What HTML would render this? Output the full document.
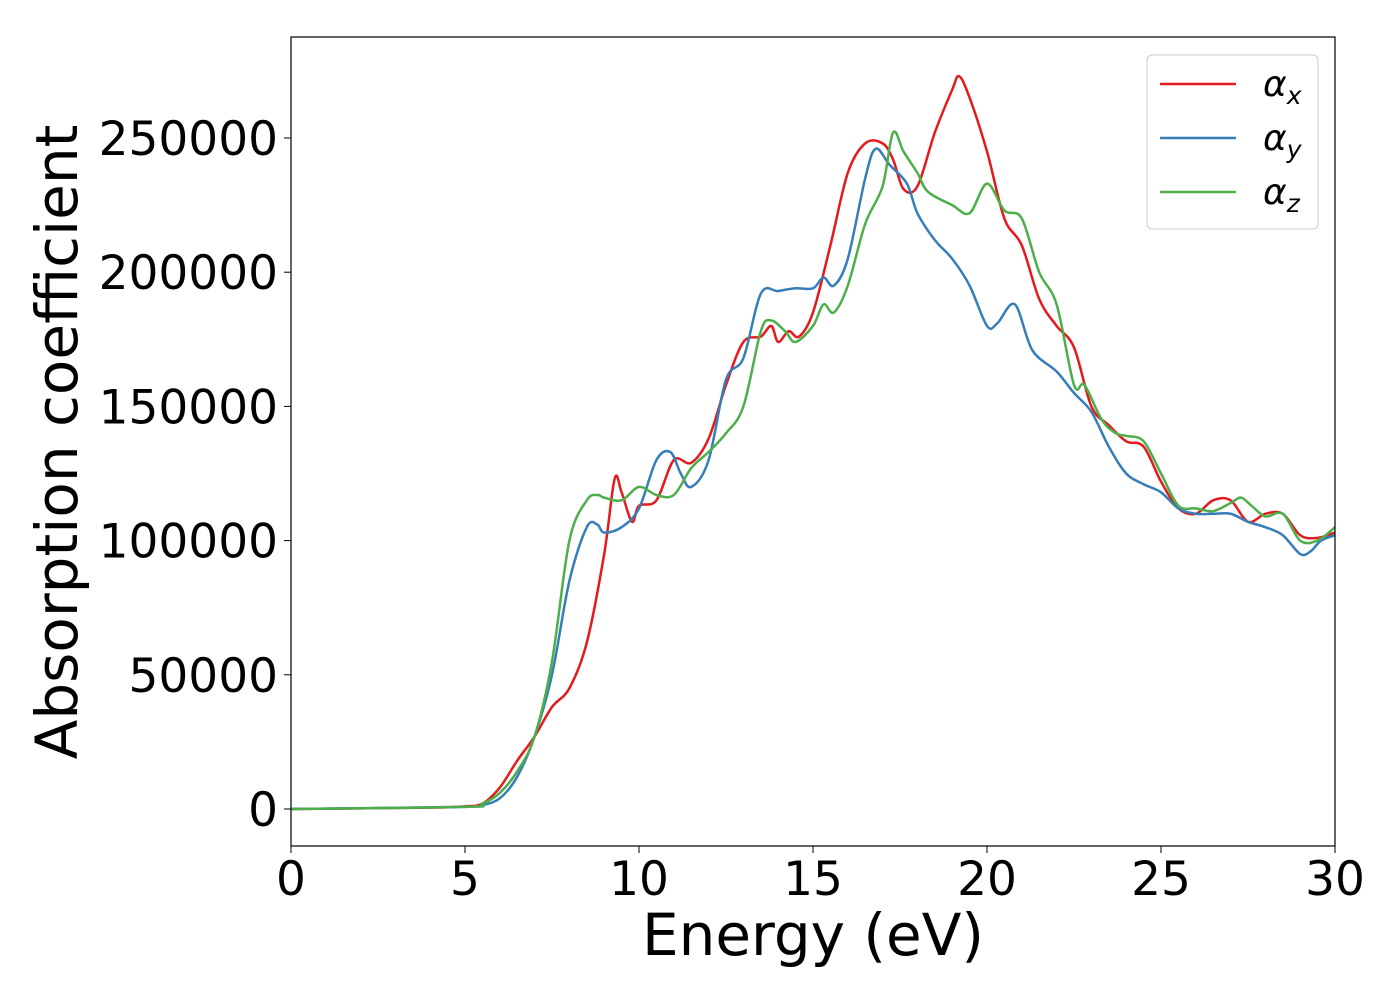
<!DOCTYPE html>
<html><head><meta charset="utf-8"><style>
body{margin:0;background:#fff}
svg{display:block;font-family:"DejaVu Sans","Liberation Sans",sans-serif}
</style></head><body>
<svg id="chart" width="1400" height="1000">
<rect x="0" y="0" width="1400" height="1000" fill="#fff"/>
<g id="series"></g>
<rect x="291" y="37" width="1044" height="809" fill="none" stroke="#000" stroke-width="1.2"/>
<g id="ticks"></g>
<text x="813" y="955" font-size="58" text-anchor="middle">Energy (eV)</text>
<text x="0" y="0" font-size="58" text-anchor="middle" transform="translate(77,442) rotate(-90)">Absorption coefficient</text>
<g>
<rect x="1147" y="55" width="171" height="174" rx="5" fill="#fff" stroke="#ccc"/>
<g id="legend"></g>
</g>
</svg>
<script>
const xTicks=[0,5,10,15,20,25,30];
const yTicks=[0,50000,100000,150000,200000,250000];
const xaX=[0,4,5,5.5,6,6.5,7,7.5,8,8.5,9,9.3,9.5,9.8,10,10.5,11,11.5,12,12.5,13,13.5,13.8,14,14.3,14.6,15,15.5,16,16.5,17,17.3,17.6,18,18.5,19,19.2,19.5,20,20.5,21,21.5,22,22.5,23,23.5,24,24.5,25,25.5,26,26.5,27,27.5,28,28.5,29,29.5,30];
const xaY=[0,500,1000,2000,8000,18000,27000,38000,45000,62000,95000,123000,118000,107000,113000,115000,130000,129000,138000,158000,174000,176000,180000,174000,178000,176000,185000,210000,237000,248000,248000,242000,231000,232000,252000,268000,273000,265000,245000,220000,210000,190000,180000,172000,150000,143000,137000,135000,122000,112000,110000,115000,115000,107000,110000,110000,102000,101000,103000];
const yaX=[0,5,5.5,6,6.5,7,7.5,8,8.5,8.8,9,9.5,10,10.5,10.9,11.2,11.5,12,12.5,13,13.5,14,14.5,15,15.3,15.6,16,16.5,16.8,17.2,17.7,18,18.5,19,19.5,20,20.3,20.8,21.3,22,22.5,23,23.5,24,24.5,25,25.5,26,26.5,27,27.5,28,28.5,29,29.3,29.6,30];
const yaY=[0,800,1500,4000,12000,27000,50000,85000,105000,106000,103000,105000,112000,130000,133000,125000,120000,130000,160000,168000,192000,193000,194000,194000,198000,195000,205000,235000,246000,240000,233000,222000,212000,205000,195000,180000,181000,188000,171000,163000,155000,148000,135000,125000,121000,118000,112000,110000,110000,110000,107000,105000,102000,95000,96000,100000,102000];
const zaX=[0,5,5.5,6,6.5,7,7.5,8,8.5,8.8,9,9.5,10,10.5,11,11.5,12,12.5,13,13.5,13.8,14.2,14.5,15,15.3,15.6,16,16.5,17,17.3,17.6,18,18.3,19,19.5,20,20.5,21,21.5,22,22.5,22.8,23.3,23.7,24,24.5,25,25.5,26,26.5,27,27.3,27.6,28,28.5,29,29.5,30];
const zaY=[0,800,2000,6000,14000,27000,55000,100000,115000,117000,116000,115000,120000,117000,117000,127000,133000,140000,150000,178000,182000,178000,174000,180000,188000,185000,195000,218000,232000,252000,245000,237000,230000,225000,222000,233000,223000,220000,200000,188000,158000,158000,145000,140000,139000,137000,125000,113000,112000,111000,114000,116000,113000,109000,110000,100000,100000,105000];
const L=291,R=1335,T=37,B=846,XMIN=0,XMAX=30,Y0PX=809,YK=671/250000;
const sx=v=>L+(v-XMIN)/(XMAX-XMIN)*(R-L);
const sy=v=>Y0PX-v*YK;
const NS='http://www.w3.org/2000/svg';
function mk(t,a,p){const e=document.createElementNS(NS,t);for(const k in a)e.setAttribute(k,a[k]);p.appendChild(e);return e;}
function pathD(xs,ys){const p=xs.map((x,i)=>[sx(x),sy(ys[i])]);let d='M'+p[0][0]+','+p[0][1];
for(let i=0;i<p.length-1;i++){const p0=p[i-1]||p[i],p1=p[i],p2=p[i+1],p3=p[i+2]||p2;
const c1=[p1[0]+(p2[0]-p0[0])/6,p1[1]+(p2[1]-p0[1])/6],c2=[p2[0]-(p3[0]-p1[0])/6,p2[1]-(p3[1]-p1[1])/6];
d+=` C${c1[0]},${c1[1]} ${c2[0]},${c2[1]} ${p2[0]},${p2[1]}`;}return d;}
const sg=document.getElementById('series');
const defs=mk('defs',{},sg);const cp=mk('clipPath',{id:'c'},defs);mk('rect',{x:L,y:T,width:R-L,height:B-T},cp);
const data=[[xaX,xaY,'#e41a1c','series-alpha-x'],[yaX,yaY,'#377eb8','series-alpha-y'],[zaX,zaY,'#4daf4a','series-alpha-z']];
data.forEach(s=>{const e=mk('path',{d:pathD(s[0],s[1]),fill:'none',stroke:s[2],'stroke-width':2.5,'clip-path':'url(#c)'},sg);

});
const tg=document.getElementById('ticks');
xTicks.forEach(v=>{const x=sx(v);mk('line',{x1:x,x2:x,y1:B,y2:B+7,stroke:'#000'},tg);
const t=mk('text',{x:x,y:895,'font-size':47,'text-anchor':'middle'},tg);t.textContent=v;

});
yTicks.forEach(v=>{const y=sy(v);mk('line',{x1:L-7,x2:L,y1:y,y2:y,stroke:'#000'},tg);
const t=mk('text',{x:278,y:y+17,'font-size':47,'text-anchor':'end'},tg);t.textContent=v;

});
const lg=document.getElementById('legend');
const subs=['x','y','z'];
data.forEach((s,i)=>{const y=84+i*54;
const l=mk('line',{x1:1160,x2:1236,y1:y,y2:y,stroke:s[2],'stroke-width':2.5},lg);


const t=mk('text',{x:1263,y:y+12,'font-size':36,'font-style':'italic'},lg);
t.textContent='α';const ts=mk('tspan',{'font-size':25,dy:8},t);ts.textContent=subs[i];

});
</script>
</body></html>
